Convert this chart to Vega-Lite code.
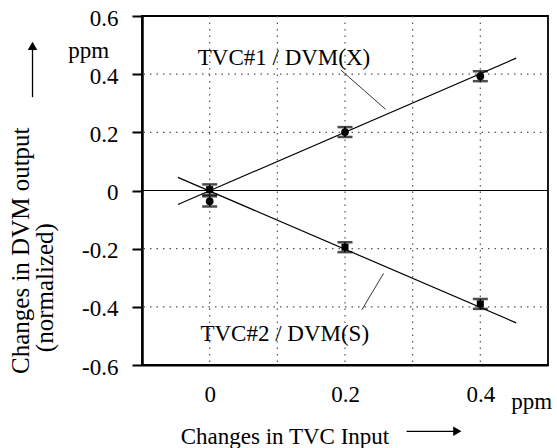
{
  "$schema": "https://vega.github.io/schema/vega-lite/v6.json",
  "width": 406,
  "height": 349,
  "autosize": "none",
  "padding": {"left": 142, "top": 16, "right": 9, "bottom": 83},
  "background": "white",
  "config": {
    "font": "Liberation Serif",
    "view": {"stroke": "black", "strokeWidth": 1.8}
  },
  "datasets": {
    "vgrid": [{"x": 0}, {"x": 0.1}, {"x": 0.2}, {"x": 0.3}, {"x": 0.4}],
    "hgrid": [{"y": -0.4}, {"y": -0.2}, {"y": 0.2}, {"y": 0.4}],
    "fits": [
      {"x": -0.047, "y": -0.048, "x2": 0.453, "y2": 0.455},
      {"x": -0.047, "y": 0.045, "x2": 0.453, "y2": -0.455}
    ],
    "leaders": [
      {"x": 0.194, "y": 0.414, "x2": 0.26, "y2": 0.279},
      {"x": 0.257, "y": -0.285, "x2": 0.225, "y2": -0.41}
    ],
    "tvc1": [
      {"x": 0, "y": -0.037, "lo": -0.055, "hi": -0.02},
      {"x": 0.2, "y": 0.201, "lo": 0.184, "hi": 0.218},
      {"x": 0.4, "y": 0.393, "lo": 0.376, "hi": 0.41}
    ],
    "tvc2": [
      {"x": 0, "y": 0.003, "lo": -0.015, "hi": 0.021},
      {"x": 0.2, "y": -0.195, "lo": -0.212, "hi": -0.178},
      {"x": 0.4, "y": -0.39, "lo": -0.407, "hi": -0.373}
    ],
    "labels": [
      {"x": -0.0176, "y": 0.431, "text": "TVC#1 / DVM(X)"},
      {"x": -0.0137, "y": -0.517, "text": "TVC#2 / DVM(S)"},
      {"x": 0.4456, "y": -0.752, "text": "ppm"},
      {"x": -0.209, "y": 0.455, "text": "ppm"}
    ],
    "ytitle": [
      {"x": -0.279, "y": -0.207, "text": "Changes in DVM output"},
      {"x": -0.243, "y": -0.334, "text": "(normalized)"}
    ],
    "arrowlines": [
      {"x": 0.291, "y": -0.828, "x2": 0.366, "y2": -0.828},
      {"x": -0.2618, "y": 0.321, "x2": -0.2618, "y2": 0.497}
    ],
    "arrowheads": [
      {"x": 0.366, "y": -0.828, "shape": "triangle-right"},
      {"x": -0.2618, "y": 0.497, "shape": "triangle-up"}
    ]
  },
  "layer": [
    {
      "data": {"name": "fits"},
      "mark": {"type": "rule", "color": "black", "strokeWidth": 1.2},
      "encoding": {
        "x": {
          "field": "x", "type": "quantitative",
          "scale": {"domain": [-0.1, 0.5], "nice": false, "zero": false},
          "axis": {
            "title": "Changes in TVC Input",
            "values": [0, 0.1, 0.2, 0.3, 0.4],
            "labelExpr": "abs(round(datum.value*10))%2==0 ? format(datum.value,'.1~f') : ''",
            "labelFont": "Liberation Serif",
            "labelFontSize": 23,
            "labelColor": "black",
            "titleFont": "Liberation Serif",
            "titleFontSize": 23,
            "titleFontWeight": "normal",
            "titleColor": "black",
            "tickSize": 0,
            "tickWidth": 1.8,
            "tickColor": "black",
            "domainWidth": 2,
            "domainColor": "black",
            "grid": false,
            "labelPadding": 18,
            "labelBaseline": "top",
            "titleX": 142.5,
            "titleY": 78,
            "titleBaseline": "alphabetic",
            "titleAlign": "center",
            "encode": {"ticks": {"update": {"y2": {"signal": "abs(round(datum.value*10))%2==0 ? -8 : -5"}}}}
          }
        },
        "y": {
          "field": "y", "type": "quantitative",
          "scale": {"domain": [-0.6, 0.6], "nice": false, "zero": false},
          "axis": {
            "title": null,
            "values": [-0.6, -0.55, -0.5, -0.45, -0.4, -0.35, -0.3, -0.25, -0.2, -0.15, -0.1, -0.05, 0, 0.05, 0.1, 0.15, 0.2, 0.25, 0.3, 0.35, 0.4, 0.45, 0.5, 0.55, 0.6],
            "labelExpr": "abs(round(datum.value*20))%4==0 ? replace(format(datum.value,'.1~f'),'\u2212','-') : ''",
            "labelFont": "Liberation Serif",
            "labelFontSize": 23,
            "labelColor": "black",
            "tickSize": 10,
            "tickWidth": 2,
            "tickColor": "black",
            "domainWidth": 2.5,
            "domainColor": "black",
            "grid": false,
            "labelPadding": 14,
            "labelOffset": 2,
            "labelBaseline": "middle",
            "encode": {
              "ticks": {"update": {"x2": {"signal": "abs(round(datum.value*20))%4==0 ? -10 : -6"}}}
            }
          }
        },
        "x2": {"field": "x2"},
        "y2": {"field": "y2"}
      }
    },
    {
      "data": {"name": "vgrid"},
      "mark": {"type": "rule", "color": "#555", "strokeWidth": 1.2, "strokeDash": [1.5, 5]},
      "encoding": {"x": {"field": "x", "type": "quantitative", "scale": {"domain": [-0.1, 0.5], "nice": false, "zero": false}}}
    },
    {
      "data": {"name": "hgrid"},
      "mark": {"type": "rule", "color": "#555", "strokeWidth": 1.2, "strokeDash": [1.5, 5]},
      "encoding": {"y": {"field": "y", "type": "quantitative", "scale": {"domain": [-0.6, 0.6], "nice": false, "zero": false}}}
    },
    {
      "data": {"values": [{"v": 0}]},
      "mark": {"type": "rule", "color": "black", "strokeWidth": 1.2},
      "encoding": {"y": {"field": "v", "type": "quantitative", "scale": {"domain": [-0.6, 0.6], "nice": false, "zero": false}}}
    },
    {
      "data": {"name": "leaders"},
      "mark": {"type": "rule", "color": "black", "strokeWidth": 0.8},
      "encoding": {
        "x": {"field": "x", "type": "quantitative", "scale": {"domain": [-0.1, 0.5], "nice": false, "zero": false}},
        "y": {"field": "y", "type": "quantitative", "scale": {"domain": [-0.6, 0.6], "nice": false, "zero": false}},
        "x2": {"field": "x2"},
        "y2": {"field": "y2"}
      }
    },
    {
      "data": {"name": "tvc1"},
      "layer": [
        {"mark": {"type": "rule", "color": "black", "strokeWidth": 1.5}, "encoding": {"y": {"field": "lo", "type": "quantitative", "scale": {"domain": [-0.6, 0.6], "nice": false, "zero": false}}, "y2": {"field": "hi"}}},
        {"mark": {"type": "tick", "orient": "horizontal", "color": "black", "size": 15, "thickness": 2.5}, "encoding": {"y": {"field": "lo", "type": "quantitative", "scale": {"domain": [-0.6, 0.6], "nice": false, "zero": false}}}},
        {"mark": {"type": "tick", "orient": "horizontal", "color": "black", "size": 15, "thickness": 2.5}, "encoding": {"y": {"field": "hi", "type": "quantitative", "scale": {"domain": [-0.6, 0.6], "nice": false, "zero": false}}}},
        {"mark": {"type": "point", "shape": "circle", "filled": true, "color": "black", "size": 60, "opacity": 1}, "encoding": {"y": {"field": "y", "type": "quantitative", "scale": {"domain": [-0.6, 0.6], "nice": false, "zero": false}}}}
      ],
      "encoding": {"x": {"field": "x", "type": "quantitative", "scale": {"domain": [-0.1, 0.5], "nice": false, "zero": false}}}
    },
    {
      "data": {"name": "tvc2"},
      "layer": [
        {"mark": {"type": "rule", "color": "black", "strokeWidth": 1.5}, "encoding": {"y": {"field": "lo", "type": "quantitative", "scale": {"domain": [-0.6, 0.6], "nice": false, "zero": false}}, "y2": {"field": "hi"}}},
        {"mark": {"type": "tick", "orient": "horizontal", "color": "black", "size": 15, "thickness": 2.5}, "encoding": {"y": {"field": "lo", "type": "quantitative", "scale": {"domain": [-0.6, 0.6], "nice": false, "zero": false}}}},
        {"mark": {"type": "tick", "orient": "horizontal", "color": "black", "size": 15, "thickness": 2.5}, "encoding": {"y": {"field": "hi", "type": "quantitative", "scale": {"domain": [-0.6, 0.6], "nice": false, "zero": false}}}},
        {"mark": {"type": "point", "shape": "square", "filled": true, "color": "black", "size": 50, "opacity": 1}, "encoding": {"y": {"field": "y", "type": "quantitative", "scale": {"domain": [-0.6, 0.6], "nice": false, "zero": false}}}}
      ],
      "encoding": {"x": {"field": "x", "type": "quantitative", "scale": {"domain": [-0.1, 0.5], "nice": false, "zero": false}}}
    },
    {
      "data": {"name": "labels"},
      "mark": {"type": "text", "align": "left", "baseline": "alphabetic", "font": "Liberation Serif", "fontSize": 23, "color": "black"},
      "encoding": {
        "x": {"field": "x", "type": "quantitative", "scale": {"domain": [-0.1, 0.5], "nice": false, "zero": false}},
        "y": {"field": "y", "type": "quantitative", "scale": {"domain": [-0.6, 0.6], "nice": false, "zero": false}},
        "text": {"field": "text"}
      }
    },
    {
      "data": {"name": "ytitle"},
      "mark": {"type": "text", "align": "center", "baseline": "middle", "angle": 270, "font": "Liberation Serif", "fontSize": 25, "color": "black"},
      "encoding": {
        "x": {"field": "x", "type": "quantitative", "scale": {"domain": [-0.1, 0.5], "nice": false, "zero": false}},
        "y": {"field": "y", "type": "quantitative", "scale": {"domain": [-0.6, 0.6], "nice": false, "zero": false}},
        "text": {"field": "text"}
      }
    },
    {
      "data": {"name": "arrowlines"},
      "mark": {"type": "rule", "color": "black", "strokeWidth": 1.3},
      "encoding": {
        "x": {"field": "x", "type": "quantitative", "scale": {"domain": [-0.1, 0.5], "nice": false, "zero": false}},
        "y": {"field": "y", "type": "quantitative", "scale": {"domain": [-0.6, 0.6], "nice": false, "zero": false}},
        "x2": {"field": "x2"},
        "y2": {"field": "y2"}
      }
    },
    {
      "data": {"name": "arrowheads"},
      "mark": {"type": "point", "filled": true, "color": "black", "size": 90, "opacity": 1},
      "encoding": {
        "x": {"field": "x", "type": "quantitative", "scale": {"domain": [-0.1, 0.5], "nice": false, "zero": false}},
        "y": {"field": "y", "type": "quantitative", "scale": {"domain": [-0.6, 0.6], "nice": false, "zero": false}},
        "shape": {"field": "shape", "type": "nominal", "scale": null, "legend": null}
      }
    }
  ]
}
